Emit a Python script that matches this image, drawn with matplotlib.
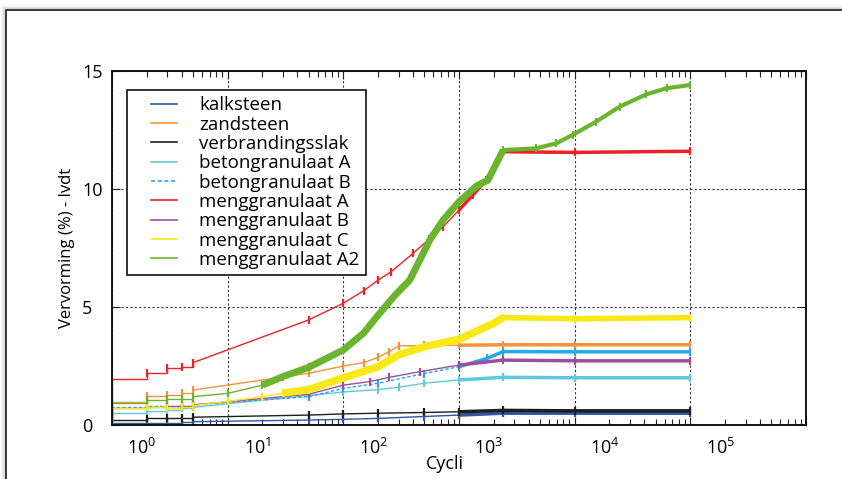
#!/usr/bin/env python3

import matplotlib
matplotlib.use('Agg')
import matplotlib.pyplot as plt
import matplotlib.transforms as mtransforms
from matplotlib.lines import Line2D
from matplotlib.legend_handler import HandlerLine2D

plt.rcParams['font.family'] = ['Open Sans', 'DejaVu Sans']
plt.rcParams['mathtext.default'] = 'regular'

#################################################
### Data
#################################################

names = ['kalksteen', 'zandsteen', 'verbrandingsslak', 'betongranulaat A',
         'betongranulaat B', 'menggranulaat A', 'menggranulaat B',
         'menggranulaat C', 'menggranulaat A2']

kalksteen_cycles = [1, 2, 3, 4, 5, 50, 100, 200, 500, 1000, 2400, 10000, 100000]
kalksteen_values = [0.07, 0.10, 0.10, 0.12, 0.14, 0.21, 0.24, 0.28, 0.36, 0.42, 0.50, 0.50, 0.50]

zandsteen_cycles = [1, 2, 3, 4, 5, 50, 100, 150, 200, 250, 300, 500, 1000, 2400, 10000, 100000]
zandsteen_values = [0.99, 1.23, 1.27, 1.37, 1.48, 2.19, 2.50, 2.64, 2.87, 3.11, 3.35, 3.37, 3.38, 3.40, 3.40, 3.40]

slak_cycles = [1, 2, 3, 4, 5, 50, 100, 200, 500, 1000, 2400, 10000, 100000]
slak_values = [0.21, 0.28, 0.30, 0.31, 0.33, 0.42, 0.47, 0.50, 0.53, 0.56, 0.62, 0.60, 0.60]

betonA_cycles = [1, 2, 3, 4, 5, 50, 100, 200, 300, 500, 1000, 2400, 10000, 100000]
betonA_values = [0.52, 0.61, 0.62, 0.71, 0.75, 1.25, 1.40, 1.50, 1.60, 1.77, 1.91, 2.02, 2.00, 2.00]

betonB_cycles = [1, 2, 3, 4, 5, 50, 100, 200, 500, 1000, 1750, 2400, 10000, 100000]
betonB_values = [0.78, 0.80, 0.80, 0.82, 0.85, 1.20, 1.55, 1.77, 2.18, 2.47, 2.82, 3.11, 3.10, 3.10]

mengA_cycles = [1, 2, 3, 4, 5, 50, 100, 150, 200, 260, 400, 550, 730, 1000, 1320, 1720, 2410, 10000, 100000]
mengA_values = [1.94, 2.19, 2.40, 2.47, 2.64, 4.45, 5.16, 5.69, 6.14, 6.50, 7.27, 7.87, 8.40, 9.11, 9.75, 10.38, 11.58, 11.55, 11.60]

mengB_cycles = [1, 2, 3, 4, 5, 50, 100, 170, 250, 460, 1000, 2400, 10000, 100000]
mengB_values = [0.74, 0.78, 0.80, 0.82, 0.85, 1.30, 1.69, 1.84, 2.02, 2.26, 2.54, 2.75, 2.72, 2.72]

mengC_cycles = [1, 2, 3, 4, 5, 10, 20, 30, 50, 100, 200, 300, 500, 1000, 1500, 2000, 2400, 10000, 100000]
mengC_values = [0.72, 0.76, 0.74, 0.78, 0.82, 1.00, 1.20, 1.35, 1.50, 2.00, 2.47, 2.97, 3.32, 3.63, 4.03, 4.31, 4.55, 4.50, 4.55]

mengA2_cycles = [1, 2, 3, 4, 5, 10, 20, 30, 50, 100, 150, 200, 280, 375, 560, 730, 1000, 1420, 1780, 2410,
                 4600, 6900, 9600, 15300, 24500, 41600, 62500, 100000]
mengA2_values = [0.95, 1.05, 1.10, 1.12, 1.20, 1.34, 1.69, 2.05, 2.44, 3.18, 3.90, 4.66, 5.50, 6.14, 7.84, 8.69, 9.46, 10.13, 10.38, 11.65,
                 11.72, 11.93, 12.29, 12.85, 13.49, 14.01, 14.27, 14.41]

colors = ['#2f55a4', '#f7923a', '#1e1e1e', '#62c6dc', '#27a9e1',
          '#ec2227', '#9c4f9f', '#f7e816', '#6ab42f']

#################################################
### Functions Definitions
#################################################

def draw_series(ax, cycles, values, color, ls='-', band_from=None, band_lw=5, tail_lw=2.5):
    """Stepped start (cycli 1-5), then a line with tick marks per measurement."""
    ax.plot([1] + cycles[:5], [0] + values[:5], color=color, lw=1.0, ls=ls,
            drawstyle='steps-post')
    ax.plot(cycles[4:], values[4:], color=color, lw=1.0, ls=ls)

    # tick marks at the measurements
    ax.plot(cycles[1:], values[1:], ls='none', marker='|', ms=5.5, mew=1.6, color=color)

    # dense part of the measurements looks like a thick band
    if band_from is not None:
        idx = [i for i, c in enumerate(cycles) if band_from <= c <= 2500]
        ax.plot([cycles[i] for i in idx], [values[i] for i in idx], color=color,
                lw=band_lw, solid_capstyle='butt', solid_joinstyle='round')
    idx = [i for i, c in enumerate(cycles) if c >= 1000]
    ax.plot([cycles[i] for i in idx], [values[i] for i in idx], color=color,
            lw=tail_lw, solid_capstyle='butt')


#################################################
### Figure
#################################################

fig = plt.figure(figsize=(8.42, 4.79), dpi=100)
ax = fig.add_axes([112 / 842, 1 - 425 / 479, 694 / 842, 354 / 479])

all_series = [
    (kalksteen_cycles, kalksteen_values, {}),
    (zandsteen_cycles, zandsteen_values, {}),
    (slak_cycles, slak_values, {}),
    (betonA_cycles, betonA_values, {}),
    (betonB_cycles, betonB_values, {'ls': (0, (2.5, 1.5))}),
    (mengA_cycles, mengA_values, {}),
    (mengB_cycles, mengB_values, {}),
    (mengC_cycles, mengC_values, {'band_from': 30, 'band_lw': 5.5, 'tail_lw': 4}),
    (mengA2_cycles, mengA2_values, {'band_from': 20, 'band_lw': 5, 'tail_lw': 3}),
]

for (cyc, val, opts), col in zip(all_series, colors):
    draw_series(ax, cyc, val, col, **opts)

ax.set_xscale('log')
ax.set_xlim(1, 1e6)
ax.set_ylim(0, 15)

ax.set_xticks([10 ** k for k in range(0, 7)])
ax.set_xticklabels([f'$10^{{{k}}}$' for k in range(0, 6)] + [''])
ax.set_yticks([0, 5, 10, 15])
ax.set_yticklabels(['0', '5', '10', '15'])

ax.tick_params(which='both', direction='in', top=True, right=True, width=0.8, color='#222')
ax.tick_params(which='major', length=6, labelsize=13)
ax.tick_params(which='minor', length=4)
ax.tick_params(axis='y', pad=21.6)
ax.tick_params(axis='x', pad=9)

# labels in the original sit a bit to the right of their ticks
shift = mtransforms.ScaledTranslation(0.30, 0, fig.dpi_scale_trans)
for lab in ax.get_xticklabels():
    lab.set_transform(lab.get_transform() + shift)
for lab in ax.get_yticklabels():
    lab.set_horizontalalignment('left')

ax.grid(True, which='major', ls=(0, (2, 2)), color='#333', lw=0.8)
for sp in ax.spines.values():
    sp.set_linewidth(1.4)
    sp.set_color('#111')

ax.set_xlabel('Cycli', fontsize=13)
ax.set_ylabel('Vervorming (%) - lvdt', fontsize=12)
ax.xaxis.set_label_coords(0.48, -0.085)
ax.yaxis.set_label_coords(-0.054, 0.5)

handles = [Line2D([], [], color=c, lw=1.2) for c in colors]
handles[4] = Line2D([], [], color=colors[4], lw=1.2, ls=(0, (2.5, 1.5)))
fs = 13.5
fs_px = fs * 100 / 72
leg = ax.legend(handles, names, loc='upper left', bbox_to_anchor=(0.0216, 0.947),
                fontsize=fs, frameon=True, fancybox=False, framealpha=1,
                borderaxespad=0, handlelength=61 / fs_px, handletextpad=0.26,
                labelspacing=0.07, borderpad=0.35,
                handler_map={Line2D: HandlerLine2D(marker_pad=17.5 / fs_px, numpoints=2)})
leg.get_frame().set_edgecolor('#111')
leg.get_frame().set_linewidth(1.2)

# page frame with a soft shadow
fx, fy = 6 / 842, 1 - 9.5 / 479
for k, a in enumerate([0.08, 0.12, 0.18, 0.25]):
    d = (4 - k) / 842
    dy = (4 - k) / 479
    fig.add_artist(Line2D([fx - d, fx - d, 1], [0, fy + dy, fy + dy], color='#888',
                          lw=1.2, alpha=a, transform=fig.transFigure))
fig.add_artist(Line2D([fx, fx, 1], [0, fy, fy], color='#2a2a2a', lw=1.3,
                      transform=fig.transFigure))

fig.savefig('out.png', dpi=100)
